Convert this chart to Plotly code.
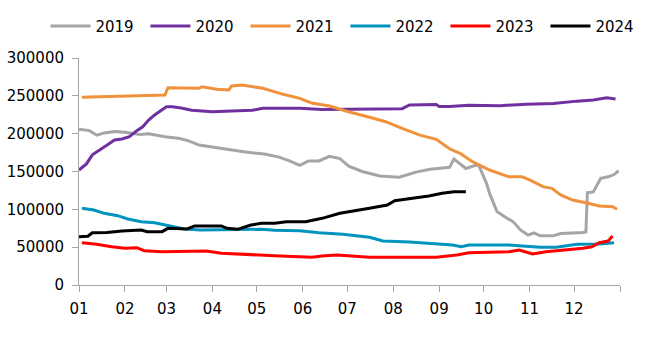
import plotly.graph_objects as go

BASE_YEAR = "2019"

# ---- data ----
d2019 = ["01-01","01-08","01-13","01-18","01-25","02-01","02-11","02-17","02-28","03-10","03-16","03-23",
         "04-02","04-12","04-22","05-06","05-16","05-23","05-30","06-05","06-12","06-19","06-26","07-02",
         "07-11","07-23","08-05","08-17","08-26","09-08","09-11","09-19","09-26","09-28","10-03","10-05",
         "10-10","10-17","10-21","10-26","10-31","11-04","11-08","11-17","11-22","12-07","12-09","12-10",
         "12-14","12-19","12-24","12-28","12-31"]
v2019 = [206000,204000,198000,201000,203000,202000,199000,200000,196000,193500,190500,185000,
         182000,179000,176000,173000,169000,164000,158000,164000,164000,170000,167000,157000,
         150000,144000,142500,149500,153000,155500,166500,154000,158500,157000,134000,121000,
         97000,88000,83500,72500,66000,69000,65000,65000,68000,69500,70000,122000,
         123000,141000,143000,146000,151000]

d2020 = ["01-01","01-06","01-10","01-15","01-20","01-25","01-30","02-04","02-09","02-13","02-17","02-21",
         "02-26","03-01","03-05","03-11","03-18","04-01","04-14","04-28","05-05","05-30","06-14","07-02",
         "08-07","08-12","08-30","09-01","09-08","09-21","10-12","10-30","11-17","12-03","12-14","12-23","12-29"]
v2020 = [152000,160000,172000,178000,185000,191600,193000,196000,204000,209000,218000,224700,
         231000,235600,235600,234000,231000,229000,230000,231000,233500,233500,232000,232500,
         233000,238000,238500,236000,236000,237500,237000,239000,240000,243000,244500,247500,245800]

d2021 = ["01-03","02-15","02-28","03-02","03-23","03-25","04-04","04-12","04-14","04-21","04-28","05-05",
         "05-11","05-18","05-30","06-07","06-19","06-30","07-16","07-27","08-07","08-19","08-30","09-08",
         "09-15","09-23","10-05","10-18","10-27","11-01","11-10","11-16","11-22","11-30","12-09","12-18",
         "12-27","12-30"]
v2021 = [248000,250000,251000,260700,260000,262000,258600,257700,263000,264300,262000,260000,
         256500,252400,246700,240500,236500,230000,221600,215800,207000,198000,192600,180000,
         174000,163500,152000,143000,143000,138800,130000,127800,119000,112300,108800,104400,
         103500,100000]

d2022 = ["01-03","01-11","01-18","01-27","02-03","02-12","02-21","02-28","03-06","03-13","03-24","04-09",
         "04-21","05-04","05-13","05-30","06-12","06-28","07-16","07-25","08-12","08-30","09-10","09-16",
         "09-21","10-18","11-08","11-19","12-03","12-18","12-28"]
v2022 = [101300,99000,94700,91600,87200,83700,82300,79300,76200,74000,72700,72700,
         73600,73600,72500,71800,69100,67000,63000,58100,56800,54200,52900,50600,
         52900,52900,49800,49800,53800,54200,55900]

d2023 = ["01-03","01-13","01-23","02-01","02-09","02-14","02-26","03-13","03-28","04-07","04-27","05-13",
         "06-07","06-14","06-24","07-16","08-30","09-13","09-21","10-18","10-25","11-03","11-12","11-28",
         "12-07","12-13","12-18","12-24","12-27"]
v2023 = [55900,53800,50600,48500,49300,45300,44000,44900,44900,41900,39600,38700,
         36600,38300,39600,36600,36600,39600,42700,44000,46300,41000,44000,46300,
         48500,50600,55900,58100,64800]

d2024 = ["01-01","01-07","01-10","01-20","01-30","02-12","02-16","02-26","03-02","03-15","03-20","04-07",
         "04-11","04-18","04-27","05-04","05-13","05-21","06-03","06-14","06-26","07-07","07-16","07-28",
         "08-02","08-14","08-25","09-03","09-11","09-19"]
v2024 = [63800,64500,69100,69500,71400,72700,70500,70500,74900,74000,78000,78000,
         74900,73600,79300,81500,81500,83700,83700,88100,94800,98200,101300,105700,
         111400,114600,117600,121200,123300,123300]

years = ["2019", "2020", "2021", "2022", "2023", "2024"]
colors = ["#A5A5A5", "#7030A0", "#F0913C", "#0093BE", "#FF0000", "#000000"]
dates = [d2019, d2020, d2021, d2022, d2023, d2024]
values = [v2019, v2020, v2021, v2022, v2023, v2024]

tick_dates = ["01-01","02-01","03-01","04-01","05-01","06-01","07-01","08-01","09-01","10-01","11-01","12-01"]
tick_text = ["01","02","03","04","05","06","07","08","09","10","11","12"]
y_ticks = [0, 50000, 100000, 150000, 200000, 250000, 300000]

FONT = "DejaVu Sans"

fig = go.Figure()
for name, col, ds, vs in zip(years, colors, dates, values):
    fig.add_trace(go.Scatter(
        x=[f"{BASE_YEAR}-{d}" for d in ds], y=vs, mode="lines", name=name,
        line=dict(color=col, width=3), hoverinfo="skip"))

end_date = f"{int(BASE_YEAR) + 1}-01-01"
fig.update_layout(
    width=647, height=346,
    margin=dict(l=79, r=27, t=58, b=61, autoexpand=False),
    paper_bgcolor="white", plot_bgcolor="white",
    font=dict(family=FONT, size=15, color="#000000"),
    showlegend=True,
    legend=dict(orientation="h", x=-0.062, xanchor="left", y=1.14, yanchor="middle",
                entrywidth=45, entrywidthmode="pixels", itemwidth=40,
                font=dict(family=FONT, size=15, color="#000000"),
                bgcolor="rgba(0,0,0,0)", tracegroupgap=0),
    xaxis=dict(
        type="date", range=[f"{BASE_YEAR}-01-01", end_date],
        tickvals=[f"{BASE_YEAR}-{d}" for d in tick_dates] + [end_date],
        ticktext=tick_text + [""],
        showgrid=False, zeroline=False, showline=True, linecolor="#A6A6A6", linewidth=1,
        ticks="outside", ticklen=6, tickcolor="#A6A6A6", tickwidth=1,
        ticklabelstandoff=4,
        tickfont=dict(family=FONT, size=15, color="#000000")),
    yaxis=dict(
        range=[0, 300000], tickvals=y_ticks, tickformat="d",
        showgrid=False, zeroline=False, showline=True, linecolor="#A6A6A6", linewidth=1,
        ticks="outside", ticklen=6, tickcolor="#A6A6A6", tickwidth=1,
        ticklabelstandoff=5,
        tickfont=dict(family=FONT, size=15, color="#000000")),
)

fig.write_html("out.html")
